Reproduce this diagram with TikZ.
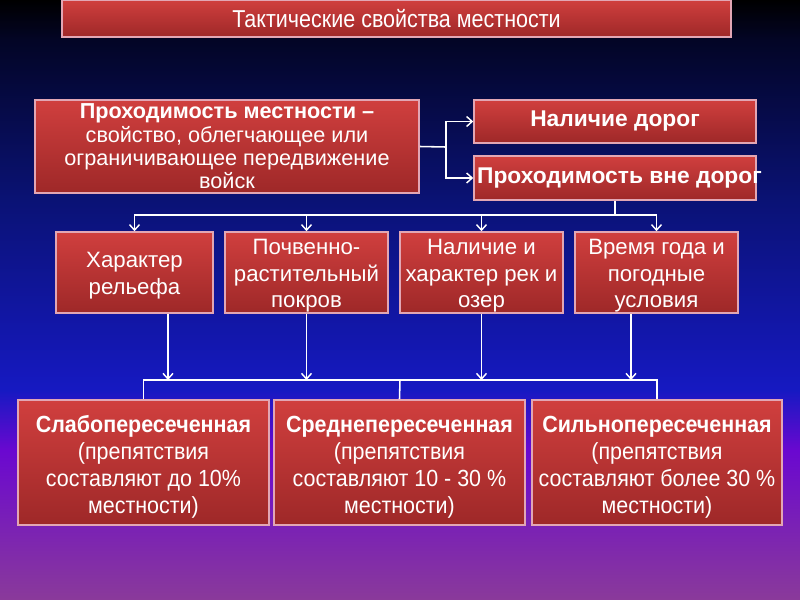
\documentclass[tikz,border=0pt]{standalone}
\usepackage{fontspec}
\setmainfont{Liberation Sans}
\newfontfamily\narrowf[FakeStretch=0.88]{Liberation Sans}
\newfontfamily\narrowg[FakeStretch=0.92]{Liberation Sans}
\usetikzlibrary{arrows.meta,calc}
\definecolor{bg0}{HTML}{000000}
\definecolor{bg1}{HTML}{030526}
\definecolor{bg2}{HTML}{0A1275}
\definecolor{bg3}{HTML}{1619C2}
\definecolor{bg4}{HTML}{6A08D0}
\definecolor{bg5}{HTML}{8A3A9A}
\definecolor{redtop}{HTML}{D03F3E}
\definecolor{redbot}{HTML}{9E2828}
\definecolor{rim}{HTML}{E2A6B4}
\newcommand{\upstrut}[1]{\rule{0pt}{#1}}
\tikzset{
  box/.style={draw=rim, line width=1.4pt, top color=redtop, bottom color=redbot,
    text=white, align=center, inner sep=0pt},
  arr/.style={draw=white, line width=1.4pt, -{Straight Barb[length=5pt,width=9pt,line width=1.3pt]}},
  ln/.style={draw=white, line width=1.4pt},
}
\begin{document}
\begin{tikzpicture}[x=0.9pt,y=-0.9pt]
\useasboundingbox (0,0) rectangle (800,600);
% background
\shade[top color=bg0,bottom color=bg1] (0,0) rectangle (800,40.5);
\shade[top color=bg1,bottom color=bg2] (0,40) rectangle (800,200.5);
\shade[top color=bg2,bottom color=bg3] (0,200) rectangle (800,390.5);
\shade[top color=bg3,bottom color=bg4] (0,390) rectangle (800,450.5);
\shade[top color=bg4,bottom color=bg5] (0,450) rectangle (800,600);

\node[box, minimum width=669*0.9pt, minimum height=37*0.9pt,
  font=\narrowf\fontsize{22}{26}\selectfont] (title) at (396.5,18.5)
  {Тактические свойства местности};

\node[box, minimum width=384*0.9pt, minimum height=93*0.9pt,
  font=\fontsize{19.5}{21}\selectfont] (main) at (227,146.5)
  {\textbf{Проходимость местности –}\\свойство, облегчающее или\\ограничивающее передвижение\\войск};

\node[box, minimum width=282*0.9pt, minimum height=43*0.9pt,
  font=\fontsize{20.5}{23}\selectfont\bfseries] (roads) at (615,121.5)
  {Наличие дорог};
\node[box, minimum width=282*0.9pt, minimum height=44*0.9pt,
  font=\fontsize{20.5}{23}\selectfont\bfseries] (offroad) at (615,178)
  {\makebox[0pt][c]{\hspace*{8pt}Проходимость вне дорог}};

\tikzset{mid/.style={box, minimum width=163*0.9pt, minimum height=81*0.9pt,
  font=\fontsize{20}{24}\selectfont}}
\node[mid, minimum width=157*0.9pt] (c1) at (134.5,272.5)
  {\upstrut{20pt}Характер\\рельефа};
\node[mid] (c2) at (306.5,272.5)
  {\upstrut{20pt}Почвенно-\\растительный\\покров};
\node[mid] (c3) at (481.5,272.5)
  {\upstrut{20pt}Наличие и\\характер рек и\\озер};
\node[mid] (c4) at (656.5,272.5)
  {\upstrut{20pt}Время года и\\погодные\\условия};

\tikzset{low/.style={box, minimum width=251*0.9pt, minimum height=125*0.9pt,
  font=\narrowg\fontsize{21}{24.5}\selectfont}}
\node[low] (b1) at (143.5,462.5)
  {\upstrut{23pt}\textbf{Слабопересеченная}\\(препятствия\\составляют до 10\%\\местности)};
\node[low] (b2) at (399.5,462.5)
  {\upstrut{23pt}\textbf{Среднепересеченная}\\(препятствия\\составляют 10 - 30 \%\\местности)};
\node[low, minimum width=250*0.9pt] (b3) at (657,462.5)
  {\upstrut{23pt}\textbf{Сильнопересеченная}\\(препятствия\\составляют более 30 \%\\местности)};

% connectors top
\coordinate (j1) at (446,147);
\draw[ln] (main.east) -- (j1);
\draw[arr] (j1) |- (roads.west);
\draw[arr] (j1) |- (offroad.west);

\coordinate (bus) at (615,215);
\draw[ln] (offroad.south) -- (bus);
\draw[arr] (bus) -| (c1.north);
\draw[arr] (bus) -| (c2.north);
\draw[arr] (bus) -| (c3.north);
\draw[arr] (bus) -| (c4.north);

% connectors bottom
\coordinate (lb) at (400,380);
\draw[arr] ($(c1.south)+(33.5,0)$) coordinate (c1d) -- (c1d |- lb);
\draw[arr] (c2.south) -- (c2.south |- lb);
\draw[arr] (c3.south) -- (c3.south |- lb);
\draw[arr] ($(c4.south)+(-25.5,0)$) coordinate (c4d) -- (c4d |- lb);
\draw[ln] (lb) -| (b1.north);
\draw[ln] (lb) -| (b3.north);
\draw[ln] (lb) -- (b2.north);
\end{tikzpicture}
\end{document}
